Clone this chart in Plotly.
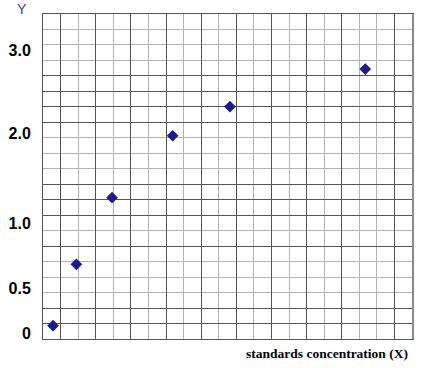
import plotly.graph_objects as go

# ---- data ----
x_vals = [0.57, 1.90, 3.93, 7.38, 10.64, 18.34]
y_vals = [0.085, 0.735, 1.441, 2.097, 2.405, 2.804]

y_tick_text = ["0", "0.5", "1.0", "2.0", "3.0"]
y_tick_pos = [0.0, 0.484, 1.164, 2.126, 3.0]

grid_dark_cols = [1, 3, 5, 7, 9, 11, 13, 15, 17, 20]
grid_light_cols = [2, 4, 6, 8, 10, 12, 14, 16, 18, 19]
grid_dark_rows = [1, 2, 6, 8, 9, 10, 14, 15, 16, 17]
grid_light_rows = [3, 4, 5, 7, 11, 12, 13, 18, 19, 20]

DARK = "#555555"
LIGHT = "#b4b4b4"

fig = go.Figure()

# grid holder trace on secondary y axis (invisible)
fig.add_trace(go.Scatter(x=[None], y=[None], yaxis="y2", mode="markers",
                         showlegend=False, hoverinfo="skip"))

fig.add_trace(go.Scatter(
    x=x_vals, y=y_vals, mode="markers",
    marker=dict(symbol="diamond", size=9, color="#1c1c8c", line=dict(width=0)),
    showlegend=False,
))

fig.update_layout(
    width=431, height=368,
    margin=dict(l=43, r=19, t=14, b=29, autoexpand=False),
    paper_bgcolor="white", plot_bgcolor="white",
    xaxis=dict(
        range=[0, 21], showticklabels=False, ticks="", zeroline=False,
        automargin=False,
        tickmode="array", tickvals=grid_dark_cols,
        showgrid=True, gridcolor=DARK, gridwidth=1,
        minor=dict(tickmode="array", tickvals=grid_light_cols, showgrid=True,
                   gridcolor=LIGHT, gridwidth=1, ticks=""),
        showline=True, mirror=True, linecolor=DARK, linewidth=1,
    ),
    yaxis=dict(
        range=[-0.056, 3.387], zeroline=False, showgrid=False, automargin=False,
        tickmode="array", tickvals=y_tick_pos, ticktext=y_tick_text,
        ticks="outside", ticklen=8, tickcolor="rgba(0,0,0,0)",
        tickfont=dict(family="Liberation Sans", size=16, color="black", weight="bold"),
        showline=True, linecolor=DARK, linewidth=1,
    ),
    yaxis2=dict(
        overlaying="y", side="right", range=[0, 21], zeroline=False, automargin=False,
        showticklabels=False, ticks="",
        tickmode="array", tickvals=grid_dark_rows,
        showgrid=True, gridcolor=DARK, gridwidth=1,
        minor=dict(tickmode="array", tickvals=grid_light_rows, showgrid=True,
                   gridcolor=LIGHT, gridwidth=1, ticks=""),
        showline=True, linecolor="#8a8a8a", linewidth=2,
    ),
    annotations=[
        dict(text="Y", xref="paper", yref="paper", x=-0.0577, y=1.0163,
             xanchor="center", yanchor="middle", showarrow=False,
             font=dict(family="Liberation Sans", size=14, color="#3c3ca0")),
        dict(text="<b>standards concentration (X)</b>", xref="paper", yref="paper",
             x=0.9946, y=-0.046, xanchor="right", yanchor="middle", showarrow=False,
             font=dict(family="Liberation Serif", size=13.5, color="black")),
    ],
)

fig.write_html("out.html")
